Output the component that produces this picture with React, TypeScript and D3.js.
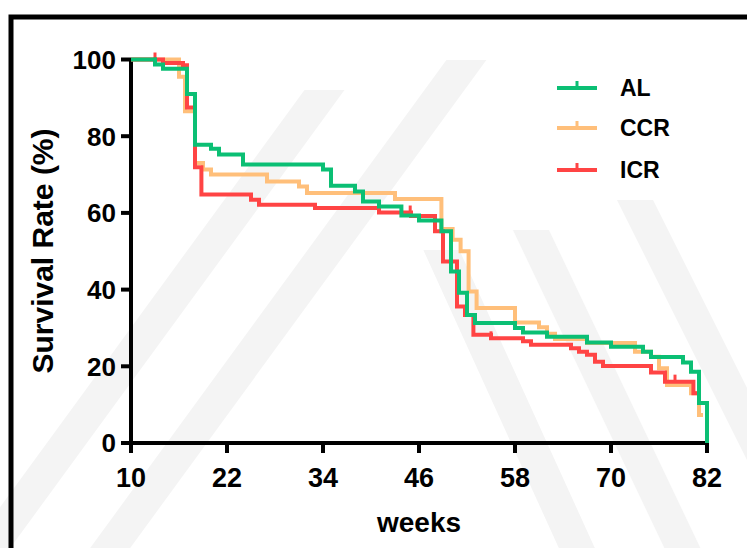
import React from "react";
import * as d3 from "d3";

// Kaplan-Meier steps (weeks, survival %)
const alWeeks = [10, 13, 14, 17, 18, 20, 21, 24, 34, 35, 38, 39, 41, 43.8, 46, 48.8, 50, 51, 52, 53, 58, 59, 62, 67, 70, 74, 75, 79, 80, 81, 82];
const alSurv = [100, 98.7, 97.6, 91, 77.8, 76.7, 75.2, 72.6, 71.3, 67.1, 65.6, 63.0, 61.7, 59.3, 58.0, 55.2, 44.7, 39.2, 33.4, 31.3, 30.0, 28.8, 27.7, 26.2, 25.1, 23.8, 22.4, 21.0, 18.6, 10.4, 0];

const ccrWeeks = [10, 16, 16.75, 18, 19, 20, 27, 31, 32, 43, 48.8, 50.2, 51.2, 52.2, 53.2, 58, 61, 62, 63, 67, 73, 75, 76, 77, 80, 81, 81.5];
const ccrSurv = [100, 95.5, 86.5, 73, 71.3, 70.0, 68.2, 66.9, 65.2, 63.6, 55.8, 53, 50, 39.5, 35.2, 31.4, 30.2, 28.5, 27.1, 26.1, 23.8, 22.5, 19.5, 15.1, 13, 7.3, 7.3];

const icrWeeks = [10, 14, 16.5, 17, 18, 18.8, 25, 26, 33, 41, 45, 48, 49, 50.75, 51.75, 52.8, 55, 59, 60, 65, 66, 67, 68, 69, 75, 76.75, 80.3, 81];
const icrSurv = [100, 99.1, 98.5, 87.5, 71.9, 64.8, 63.4, 62.1, 61.3, 60.1, 59.2, 55.2, 47.3, 35.6, 33.4, 28.2, 27.3, 26.5, 25.6, 24.7, 23.8, 23.0, 21.2, 20.1, 18.4, 16.0, 13, 13];

// censored observations (tick marks)
const alCensor = [13];
const icrCensor = [13, 44.9, 55, 78];

const xTicks = [10, 22, 34, 46, 58, 70, 82];
const yTicks = [0, 20, 40, 60, 80, 100];

const groups = ["AL", "CCR", "ICR"];
const colors = ["#0bbf74", "#ffbf7a", "#ff4444"];

const font = "'Liberation Sans', Arial, sans-serif";

function survAt(weeks: number[], surv: number[], t: number) {
  let v = surv[0];
  for (let i = 0; i < weeks.length; i++) {
    if (weeks[i] <= t) v = surv[i];
  }
  return v;
}

export default function App() {
  const width = 747;
  const height = 548;
  const x = d3.scaleLinear().domain([10, 82]).range([131, 707]);
  const y = d3.scaleLinear().domain([0, 100]).range([443, 59.5]);

  const line = d3
    .line<[number, number]>()
    .x((d) => x(d[0]))
    .y((d) => y(d[1]))
    .curve(d3.curveStepAfter);

  const series = [
    { name: "CCR", weeks: ccrWeeks, surv: ccrSurv, censor: [] as number[], color: colors[1] },
    { name: "ICR", weeks: icrWeeks, surv: icrSurv, censor: icrCensor, color: colors[2] },
    { name: "AL", weeks: alWeeks, surv: alSurv, censor: alCensor, color: colors[0] },
  ];

  // faint diagonal watermark bands
  const band = (cx: number, cy: number, slope: number, w: number, y0: number, y1: number) => {
    const xa = (yy: number) => cx + (yy - cy) / slope;
    return `M${xa(y0) - w / 2},${y0}L${xa(y0) + w / 2},${y0}L${xa(y1) + w / 2},${y1}L${xa(y1) - w / 2},${y1}Z`;
  };

  return (
    <svg
      width={width}
      height={height}
      style={{ position: "absolute", left: 0, top: 0, background: "#fff" }}
    >
      <g fill="#f4f4f4">
        <path d={band(215, 240, -1.37, 40, 548, 90)} />
        <path d={band(335, 240, -1.37, 40, 548, 60)} />
        <path d={band(505, 390, 2.2, 36, 250, 548)} />
        <path d={band(600, 375, 2.1, 36, 230, 548)} />
        <path d={band(710, 350, 2.0, 36, 200, 548)} />
      </g>

      <rect x={11} y={17} width={760} height={560} fill="none" stroke="#000" strokeWidth={5} />

      {/* y axis */}
      <line x1={x(10)} x2={x(10)} y1={y(100)} y2={y(0)} stroke="#000" strokeWidth={4} />
      {yTicks.map((t) => (
        <g key={t}>
          <line x1={x(10) - 10} x2={x(10)} y1={y(t)} y2={y(t)} stroke="#000" strokeWidth={4} />
          <text
            x={x(10) - 15}
            y={y(t)}
            dy="0.36em"
            textAnchor="end"
            fontFamily={font}
            fontWeight="bold"
            fontSize={26}
          >
            {t}
          </text>
        </g>
      ))}

      {/* x axis */}
      <line x1={x(10) - 2} x2={x(82) + 2} y1={y(0)} y2={y(0)} stroke="#000" strokeWidth={4} />
      {xTicks.map((t) => (
        <g key={t}>
          <line x1={x(t)} x2={x(t)} y1={y(0)} y2={y(0) + 10} stroke="#000" strokeWidth={4} />
          <text
            x={x(t)}
            y={487}
            textAnchor="middle"
            fontFamily={font}
            fontWeight="bold"
            fontSize={27}
          >
            {t}
          </text>
        </g>
      ))}

      <text x={419} y={532} textAnchor="middle" fontFamily={font} fontWeight="bold" fontSize={28}>
        weeks
      </text>
      <text
        transform={`translate(53,251) rotate(-90)`}
        textAnchor="middle"
        fontFamily={font}
        fontWeight="bold"
        fontSize={30}
      >
        Survival Rate (%)
      </text>

      {/* survival curves */}
      {series.map((s) => {
        const pts = s.weeks.map((w, i) => [w, s.surv[i]] as [number, number]);
        return (
          <g key={s.name}>
            <path d={line(pts) || ""} fill="none" stroke={s.color} strokeWidth={4} />
            {s.censor.map((c) => (
              <line
                key={c}
                x1={x(c)}
                x2={x(c)}
                y1={y(survAt(s.weeks, s.surv, c))}
                y2={y(survAt(s.weeks, s.surv, c)) - 7}
                stroke={s.color}
                strokeWidth={3}
              />
            ))}
          </g>
        );
      })}

      {/* legend */}
      {groups.map((g, i) => {
        const ly = [88, 128, 170][i];
        return (
          <g key={g}>
            <line x1={557} x2={597} y1={ly} y2={ly} stroke={colors[i]} strokeWidth={4} />
            <line x1={577} x2={577} y1={ly} y2={ly - 7} stroke={colors[i]} strokeWidth={3} />
            <text
              x={620}
              y={ly}
              dy="0.36em"
              fontFamily={font}
              fontWeight="bold"
              fontSize={23}
            >
              {g}
            </text>
          </g>
        );
      })}
    </svg>
  );
}
